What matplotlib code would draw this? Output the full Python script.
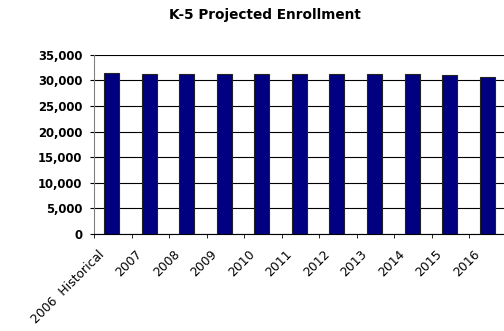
import matplotlib
matplotlib.use("Agg")
import matplotlib.pyplot as plt
from matplotlib.ticker import FuncFormatter, FixedLocator
from matplotlib.transforms import ScaledTranslation
import numpy as np

categories = ["2006  Historical", "2007", "2008", "2009", "2010", "2011",
              "2012", "2013", "2014", "2015", "2016"]
enrollment = [31500, 31200, 31200, 31200, 31200, 31200,
              31200, 31200, 31200, 31000, 30700]
y_ticks = [0, 5000, 10000, 15000, 20000, 25000, 30000, 35000]

plt.rcParams["font.family"] = ["DejaVu Sans"]

fig = plt.figure(figsize=(5.04, 3.31), dpi=100)
ax = fig.add_axes([94 / 504, 1 - 234 / 331, (507 - 94) / 504, (234 - 54.7) / 331])

x = np.arange(len(categories))
ax.bar(x - 0.03, enrollment, width=0.4, color="#000080",
       edgecolor="#222222", linewidth=0.8, zorder=3)

ax.set_xlim(-0.5, len(categories) - 0.5)
ax.set_ylim(0, 35000)
ax.yaxis.set_major_locator(FixedLocator(y_ticks))
ax.yaxis.set_major_formatter(FuncFormatter(lambda v, p: f"{int(v):,}"))
ax.grid(axis="y", color="black", linewidth=0.8, zorder=1)

ax.set_xticks(x)
ax.set_xticklabels(categories, rotation=45, ha="right", rotation_mode="anchor",
                   fontsize=8.9)
ax.tick_params(axis="x", which="major", length=0, pad=4)
shift = ScaledTranslation(-15 / 100, -8 / 100, fig.dpi_scale_trans)
for lbl in ax.get_xticklabels():
    lbl.set_transform(lbl.get_transform() + shift)
ax.set_xticks(np.arange(len(categories) + 1) - 0.5, minor=True)
ax.tick_params(axis="x", which="minor", length=3, direction="out", color="black")
ax.tick_params(axis="y", length=3, direction="out", labelsize=8.4, pad=5.5)
for lbl in ax.get_yticklabels():
    lbl.set_fontweight("bold")

for side in ("top", "right"):
    ax.spines[side].set_visible(False)
ax.spines["left"].set_color("#808080")
ax.spines["bottom"].set_color("black")

fig.text(265 / 504, 1 - 15 / 331, "K-5 Projected Enrollment", ha="center",
         va="center", fontsize=9.8, fontweight="bold")

fig.savefig("out.png", dpi=100)
